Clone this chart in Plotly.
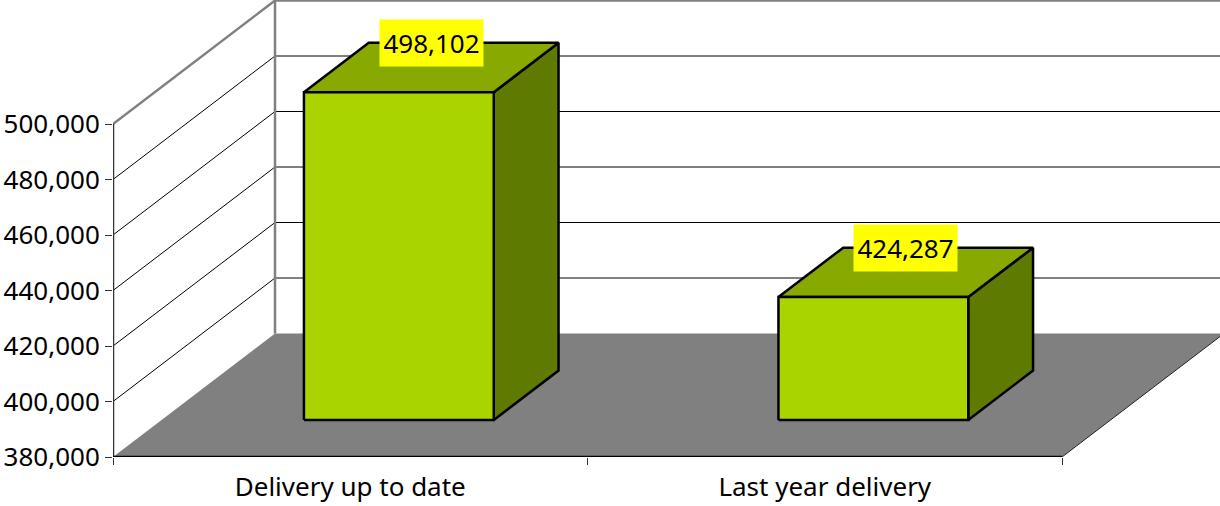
import plotly.graph_objects as go

# ---- data ----
categories = ["Delivery up to date", "Last year delivery"]
values = [498102, 424287]
tick_values = [380000, 400000, 420000, 440000, 460000, 480000, 500000]

# ---- geometry (pixel-based layout constants) ----
W, H = 1220, 506
ML, MB = 113, 49
PX_PER_CAT = 474.5
PX_PER_VAL = 2.775 / 1000.0
DEPTH_PX_X = 162.0
DEPTH_PX_Y = 123.5
DXC = DEPTH_PX_X / PX_PER_CAT          # depth offset in category units
DYV = DEPTH_PX_Y / PX_PER_VAL          # depth offset in value units
VMIN, VMAX = tick_values[0], tick_values[-1]
NCAT = len(categories)
BAR_C0, BAR_C1 = 0.3, 0.7              # bar extent within category slot
BAR_D0, BAR_D1 = 0.3, 0.7              # bar extent in depth

xr = [0, (W - ML) / PX_PER_CAT]
yr = [VMIN, VMIN + (H - MB) / PX_PER_VAL]


def proj(c, v, d):
    return c + d * DXC, v + d * DYV


def poly(points):
    xs, ys = [], []
    for c, v, d in points:
        x, y = proj(c, v, d)
        xs.append(x)
        ys.append(y)
    xs.append(xs[0])
    ys.append(ys[0])
    return xs, ys


fig = go.Figure()

# floor
fx, fy = poly([(0, VMIN, 0), (NCAT, VMIN, 0), (NCAT, VMIN, 1), (0, VMIN, 1)])
fig.add_trace(go.Scatter(x=fx, y=fy, mode="lines", fill="toself",
                         fillcolor="#808080", line=dict(width=0, color="#808080"),
                         hoverinfo="skip", showlegend=False))

# gridlines on left wall and back wall
far_c = NCAT + 1
for v in tick_values[1:]:
    x0, y0 = proj(0, v, 0)
    x1, y1 = proj(0, v, 1)
    x2, y2 = proj(far_c, v, 1)
    is_top = (v == VMAX)
    fig.add_trace(go.Scatter(x=[x0, x1, x2], y=[y0, y1, y2], mode="lines",
                             line=dict(color="#808080" if is_top else "#000000",
                                       width=2.5 if is_top else 1),
                             hoverinfo="skip", showlegend=False))

# back wall left edge
bx0, by0 = proj(0, VMIN, 1)
bx1, by1 = proj(0, VMAX, 1)
fig.add_trace(go.Scatter(x=[bx0, bx1], y=[by0, by1], mode="lines",
                         line=dict(color="#808080", width=2.5),
                         hoverinfo="skip", showlegend=False))

# left value axis line
ax0, ay0 = proj(0, VMIN, 0)
ax1, ay1 = proj(0, VMAX, 0)
fig.add_trace(go.Scatter(x=[ax0, ax1], y=[ay0, ay1], mode="lines",
                         line=dict(color="#333333", width=2.5),
                         hoverinfo="skip", showlegend=False))

# floor front edge and right edge
ex0, ey0 = proj(0, VMIN, 0)
ex1, ey1 = proj(NCAT, VMIN, 0)
ex2, ey2 = proj(NCAT, VMIN, 1)
fig.add_trace(go.Scatter(x=[ex0, ex1], y=[ey0, ey1], mode="lines",
                         line=dict(color="#000000", width=2.5),
                         hoverinfo="skip", showlegend=False))
fig.add_trace(go.Scatter(x=[ex1, ex2], y=[ey1, ey2], mode="lines",
                         line=dict(color="#222222", width=1),
                         hoverinfo="skip", showlegend=False))

# bars
FRONT, TOP, SIDE = "#AAD400", "#88AA00", "#5F7A00"
for i, val in enumerate(values):
    c0, c1 = i + BAR_C0, i + BAR_C1
    d0, d1 = BAR_D0, BAR_D1
    faces = [
        (SIDE, [(c1, VMIN, d0), (c1, VMIN, d1), (c1, val, d1), (c1, val, d0)]),
        (TOP, [(c0, val, d0), (c1, val, d0), (c1, val, d1), (c0, val, d1)]),
        (FRONT, [(c0, VMIN, d0), (c1, VMIN, d0), (c1, val, d0), (c0, val, d0)]),
    ]
    for color, pts in faces:
        px, py = poly(pts)
        fig.add_trace(go.Scatter(x=px, y=py, mode="lines", fill="toself",
                                 fillcolor=color,
                                 line=dict(color="#000000", width=2.5),
                                 hoverinfo="skip", showlegend=False))
    lx, _ = proj(i + 0.5, val, (d0 + d1) / 2)
    _, ly = proj(i + 0.5, val, d1)
    fig.add_annotation(x=lx, y=ly, text=f"{val:,}", showarrow=False,
                       bgcolor="#FFFF00", borderpad=4, width=95, height=38,
                       font=dict(family="Noto Sans", size=26, color="#000000"))

FONT = dict(family="Noto Sans", size=26, color="#000000")
fig.update_layout(
    width=W, height=H,
    margin=dict(l=ML, r=0, t=0, b=MB, pad=0),
    paper_bgcolor="#FFFFFF", plot_bgcolor="#FFFFFF",
    showlegend=False,
    xaxis=dict(range=xr, showgrid=False, zeroline=False, showline=False,
               tickmode="array", tickvals=[i + 0.5 for i in range(NCAT)],
               ticktext=categories, ticks="", tickfont=FONT,
               ticklabelstandoff=12,
               minor=dict(tickmode="array", tickvals=list(range(NCAT + 1)),
                          ticks="outside", ticklen=7, tickwidth=1,
                          tickcolor="#333333", showgrid=False),
               fixedrange=True),
    yaxis=dict(range=yr, showgrid=False, zeroline=False, showline=False,
               tickmode="array", tickvals=tick_values, tickformat=",",
               ticks="outside", ticklen=7, tickwidth=1, tickcolor="#333333",
               tickfont=FONT, fixedrange=True),
)

fig.write_html("out.html", config={"displayModeBar": False},
               post_script="document.body.style.margin='0';"
                           "document.body.style.overflow='hidden';")
